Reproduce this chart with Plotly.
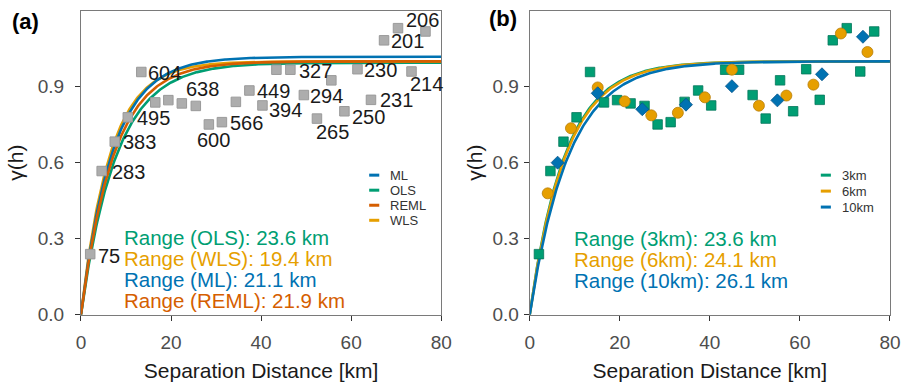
import numpy as np
import plotly.graph_objects as go

# ---------------- data ----------------
# Panel (a): empirical semivariogram (gray squares) and pair counts
lag_km = [2.05, 4.6, 7.5, 10.4, 13.4, 16.5, 19.4, 22.4, 25.5, 28.4, 31.3, 34.4, 37.4,
          40.3, 43.4, 46.5, 49.5, 52.4, 55.6, 58.5, 61.4, 64.4, 67.3, 70.4, 73.4, 76.5]
gamma_a = [0.239, 0.567, 0.683, 0.779, 0.958, 0.838, 0.847, 0.834, 0.824, 0.751, 0.760,
           0.840, 0.885, 0.826, 0.967, 0.967, 0.867, 0.774, 0.925, 0.803, 0.969, 0.848,
           1.083, 1.131, 0.960, 1.118]
pair_labels = ["75", "283", "383", "495", "604", "638", "600", "566", "449", "394", "327",
               "294", "265", "250", "230", "231", "201", "206", "214"]
# label anchor positions (km, gamma) as placed in the figure
pair_label_x = [3.4, 6.4, 8.9, 11.9, 14.4, 22.8, 25.3, 32.6, 38.6, 41.3, 47.9,
                50.4, 51.8, 59.7, 62.4, 65.9, 68.4, 71.8, 72.6]
pair_label_y = [0.233, 0.564, 0.683, 0.775, 0.954, 0.890, 0.690, 0.756, 0.884, 0.807, 0.963,
                0.863, 0.721, 0.779, 0.966, 0.848, 1.082, 1.162, 0.909]

methods_a = ["ML", "OLS", "REML", "WLS"]
range_a = {"OLS": 23.6, "WLS": 19.4, "ML": 21.1, "REML": 21.9}
sill_a = {"OLS": 0.995, "WLS": 1.0, "ML": 1.018, "REML": 1.0}

# Panel (b): semivariograms for three lag widths
lag_3km = lag_km
gamma_3km = gamma_a
lag_6km = [4.0, 9.16, 15.1, 21.1, 27.0, 32.9, 38.9, 44.9, 50.9, 57.0, 63.0, 69.1, 75.0]
gamma_6km = [0.479, 0.736, 0.897, 0.842, 0.787, 0.797, 0.858, 0.967, 0.825, 0.865, 0.908,
             1.110, 1.037]
lag_10km = [6.2, 15.1, 25.0, 34.7, 44.9, 55.0, 64.9, 74.0]
gamma_10km = [0.600, 0.874, 0.811, 0.829, 0.902, 0.846, 0.949, 1.097]

widths_b = ["3km", "6km", "10km"]
range_b = {"3km": 23.6, "6km": 24.1, "10km": 26.1}
sill_b = {"3km": 1.0, "6km": 1.0, "10km": 1.0}

x_ticks = [0, 20, 40, 60, 80]
y_ticks = [0.0, 0.3, 0.6, 0.9]

# ---------------- styles ----------------
COL = {"ML": "#0072B2", "OLS": "#009E73", "REML": "#D55E00", "WLS": "#E69F00",
       "3km": "#009E73", "6km": "#E69F00", "10km": "#0072B2"}
FONT = "Liberation Sans, Arial, Helvetica, sans-serif"


def expo(h, rng, sill):
    # exponential variogram model, practical range
    return sill * (1.0 - np.exp(-3.0 * h / rng))


h = np.linspace(0, 80, 401)

fig = go.Figure()

# ----- panel (a) curves -----
for m in ["OLS", "WLS", "ML", "REML"]:
    fig.add_trace(go.Scatter(x=h, y=expo(h, range_a[m], sill_a[m]), mode="lines",
                             line=dict(color=COL[m], width=2.6), showlegend=False,
                             xaxis="x", yaxis="y", hoverinfo="skip"))
fig.add_trace(go.Scatter(x=lag_km, y=gamma_a, mode="markers",
                         marker=dict(symbol="square", size=9.5, color="#ADADAD",
                                     line=dict(color="#9A9A9A", width=1)),
                         showlegend=False, xaxis="x", yaxis="y"))

# ----- panel (b) curves -----
for w in ["3km", "6km", "10km"]:
    fig.add_trace(go.Scatter(x=h, y=expo(h, range_b[w], sill_b[w]), mode="lines",
                             line=dict(color=COL[w], width=2.6), showlegend=False,
                             xaxis="x2", yaxis="y2", hoverinfo="skip"))
fig.add_trace(go.Scatter(x=lag_3km, y=gamma_3km, mode="markers",
                         marker=dict(symbol="square", size=9.5, color=COL["3km"],
                                     line=dict(color="#04765A", width=0.8)),
                         showlegend=False, xaxis="x2", yaxis="y2"))
fig.add_trace(go.Scatter(x=lag_6km, y=gamma_6km, mode="markers",
                         marker=dict(symbol="circle", size=11, color=COL["6km"],
                                     line=dict(color="#B77E08", width=0.8)),
                         showlegend=False, xaxis="x2", yaxis="y2"))
fig.add_trace(go.Scatter(x=lag_10km, y=gamma_10km, mode="markers",
                         marker=dict(symbol="diamond", size=10, color=COL["10km"],
                                     line=dict(color="#06548A", width=0.8)),
                         showlegend=False, xaxis="x2", yaxis="y2"))

annotations = []
# pair-count labels
for t, lx, ly in zip(pair_labels, pair_label_x, pair_label_y):
    annotations.append(dict(x=lx, y=ly, xref="x", yref="y", text=t, showarrow=False,
                            xanchor="left", yanchor="middle",
                            font=dict(family=FONT, size=20, color="#1a1a1a")))

# range annotations
for i, m in enumerate(["OLS", "WLS", "ML", "REML"]):
    annotations.append(dict(x=9.3, y=0.304 - 0.083 * i, xref="x", yref="y",
                            text=f"Range ({m}): {range_a[m]} km", showarrow=False,
                            xanchor="left", yanchor="middle", borderpad=0,
                            font=dict(family=FONT, size=20.5, color=COL[m])))
for i, w in enumerate(widths_b):
    annotations.append(dict(x=9.6, y=0.302 - 0.083 * i, xref="x2", yref="y2",
                            text=f"Range ({w}): {range_b[w]} km", showarrow=False,
                            xanchor="left", yanchor="middle", borderpad=0,
                            font=dict(family=FONT, size=20.5, color=COL[w])))

# legends (short dash keys)
shapes = []
def add_legend(names, xr, yr, x0, y0, dy):
    for i, n in enumerate(names):
        yy = y0 - i * dy
        shapes.append(dict(type="line", xref=xr + " domain", yref=yr + " domain",
                           x0=x0, x1=x0 + 0.028, y0=yy, y1=yy,
                           line=dict(color=COL[n], width=3)))
        annotations.append(dict(x=x0 + 0.052, y=yy, xref=xr + " domain", yref=yr + " domain",
                                text=n, showarrow=False, xanchor="left", yanchor="middle",
                                font=dict(family=FONT, size=13, color="#333333")))

add_legend(methods_a, "x", "y", 0.800, 0.475 - 0.016, 0.0495)
add_legend(widths_b, "x2", "y2", 0.808, 0.475 - 0.016, 0.0525)

# panel tags
annotations.append(dict(x=0.006, y=0.943, xref="paper", yref="paper", text="<b>(a)</b>",
                        showarrow=False, xanchor="left", yanchor="middle",
                        font=dict(family=FONT, size=22, color="#000000")))
annotations.append(dict(x=0.535, y=0.950, xref="paper", yref="paper", text="<b>(b)</b>",
                        showarrow=False, xanchor="left", yanchor="middle",
                        font=dict(family=FONT, size=22, color="#000000")))

ax_common = dict(showline=True, linecolor="#7a7a7a", linewidth=1.2, mirror=True,
                 showgrid=False, zeroline=False, ticks="outside", ticklen=5,
                 tickwidth=1, tickcolor="#333333",
                 tickfont=dict(family=FONT, size=19, color="#4d4d4d"))

xtitle = dict(text="Separation Distance [km]", standoff=12,
              font=dict(family=FONT, size=21, color="#1a1a1a"))
ytitle_a = dict(text="γ(h)", standoff=8, font=dict(family=FONT, size=21, color="#1a1a1a"))
ytitle_b = dict(text="γ(h)", standoff=4, font=dict(family=FONT, size=21, color="#1a1a1a"))

fig.update_layout(
    width=916, height=382, margin=dict(l=0, r=0, t=0, b=0),
    paper_bgcolor="white", plot_bgcolor="white",
    showlegend=False,
    xaxis=dict(domain=[0.0844, 0.4847], range=[0, 80], tickvals=x_ticks,
               title=xtitle, ticklabelstandoff=5, anchor="y", **ax_common),
    yaxis=dict(domain=[0.1518, 0.9712], range=[0, 1.2], tickvals=y_ticks, tickformat=".1f",
               title=ytitle_a, ticklabelstandoff=7, anchor="x", **ax_common),
    xaxis2=dict(domain=[0.5830, 0.9833], range=[0, 80], tickvals=x_ticks,
                title=xtitle, ticklabelstandoff=5, anchor="y2", **ax_common),
    yaxis2=dict(domain=[0.1518, 0.9712], range=[0, 1.2], tickvals=y_ticks, tickformat=".1f",
                title=ytitle_b, ticklabelstandoff=1, anchor="x2", **ax_common),
    annotations=annotations,
    shapes=shapes,
)

fig.write_html("out.html")
